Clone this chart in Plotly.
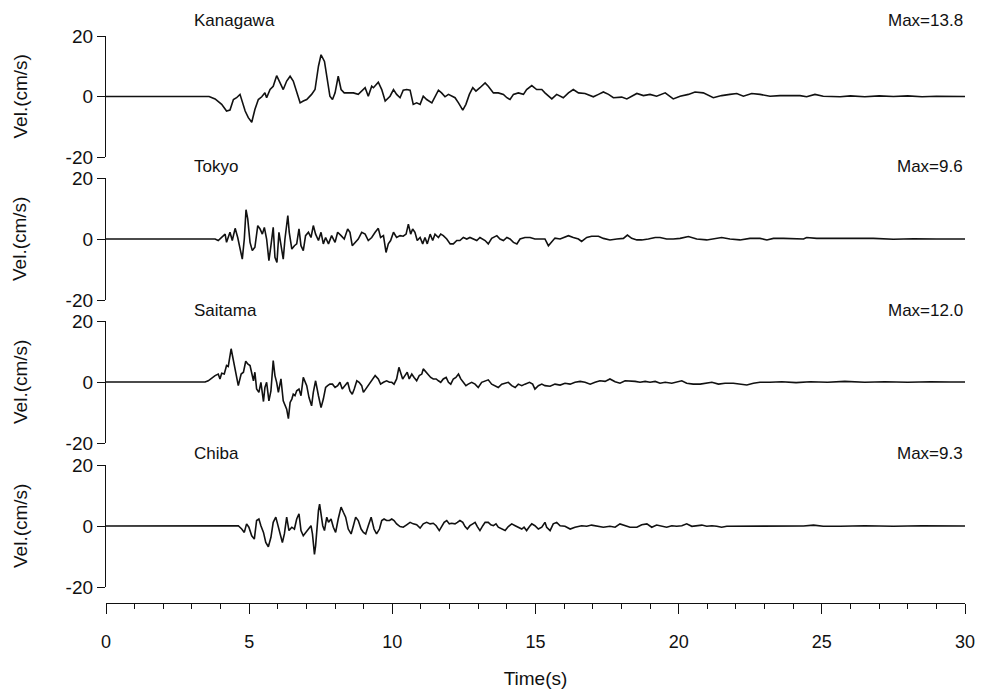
import plotly.graph_objects as go

# ---------------- velocity records (time in s, velocity in cm/s) ----------------
stations = ["Kanagawa", "Tokyo", "Saitama", "Chiba"]
max_labels = ["Max=13.8", "Max=9.6", "Max=12.0", "Max=9.3"]

kanagawa_t = [0, 3.1, 3.6, 3.81, 4.04, 4.21, 4.33, 4.45, 4.56, 4.68, 4.74, 4.86, 4.97, 5.09, 5.20, 5.32,
              5.44, 5.55, 5.61, 5.73, 5.84, 5.96, 6.08, 6.19, 6.31, 6.43, 6.54, 6.66, 6.78, 6.89, 7.01,
              7.18, 7.30, 7.42, 7.51, 7.63, 7.71, 7.82, 7.91, 8.00, 8.11, 8.21, 8.32, 8.46, 8.64, 8.81,
              8.93, 9.05, 9.16, 9.28, 9.34, 9.51, 9.63, 9.75, 9.92, 10.04, 10.15, 10.27, 10.38, 10.50,
              10.62, 10.73, 10.85, 10.97, 11.08, 11.20, 11.38, 11.49, 11.61, 11.72, 11.84, 11.96, 12.07,
              12.19, 12.31, 12.46, 12.57, 12.69, 12.81, 12.92, 13.06, 13.24, 13.35, 13.53, 13.70, 13.88,
              14.00, 14.11, 14.23, 14.40, 14.58, 14.69, 14.87, 15.04, 15.22, 15.33, 15.57, 15.74, 15.97,
              16.15, 16.32, 16.50, 16.73, 17.02, 17.20, 17.37, 17.55, 17.72, 18.01, 18.19, 18.54, 18.77,
              19.00, 19.23, 19.53, 19.81, 20.05, 20.34, 20.57, 20.86, 21.21, 21.50, 21.79, 22.03, 22.26,
              22.55, 22.84, 23.19, 23.54, 23.89, 24.24, 24.47, 24.76, 25.05, 25.40, 25.64, 26.0, 26.5,
              27.0, 27.5, 28.0, 28.5, 29.0, 29.5, 30.0]
kanagawa_v = [0, 0, 0, -0.8, -2.6, -4.8, -4.5, -1.0, -0.4, 0.7, -1.0, -4.8, -7.0, -8.5, -4.3, -1.0,
              -0.1, 1.2, -0.4, 2.3, 3.4, 6.9, 4.5, 2.3, 5.1, 6.7, 5.1, 1.8, -2.1, -1.5, -1.0,
              0.7, 2.3, 10.0, 13.8, 11.6, 6.7, 0.1, -1.0, 1.2, 6.7, 2.3, 1.2, 1.2, 1.2, 0.7,
              1.8, 2.9, 0.1, 3.4, 2.9, 4.7, 2.3, -1.5, 0.1, 2.3, 0.7, -0.4, 2.1, 2.3,
              2.1, -2.6, -2.1, -2.6, 0.1, -1.0, -2.1, 0.1, 2.1, 1.2, -0.1, 0.7, 0.1,
              -0.4, -2.1, -4.5, -2.6, 0.7, 2.9, 1.8, 2.9, 4.5, 3.4, 1.2, 1.2, 0.7,
              -0.4, -1.0, 0.7, 1.2, 0.7, 2.3, 3.6, 2.3, 2.3, 1.2, -0.8, 0.7, -0.4,
              1.2, 2.3, 1.2, 1.0, -0.1, 0.7, 1.5, 0.7, -0.4, -0.2, -0.8, 1.0, 0.3,
              0.7, 0.1, 1.2, -0.8, 0.1, 0.7, 1.5, 1.2, -0.4, 0.3, 0.7, 1.0, 0.1,
              1.0, 0.7, 0.1, 0.3, 0.4, 0.3, -0.1, 0.7, 0.1, 0.1, -0.1, 0.2, -0.1,
              0.2, 0.0, 0.2, -0.1, 0.1, 0.0, 0.0]

tokyo_t = [0, 3.81, 3.92, 4.04, 4.16, 4.21, 4.33, 4.41, 4.51, 4.60, 4.68, 4.76, 4.83, 4.89, 4.95, 5.03,
           5.11, 5.20, 5.30, 5.38, 5.46, 5.53, 5.61, 5.69, 5.76, 5.84, 5.90, 5.97, 6.04, 6.11, 6.19,
           6.25, 6.35, 6.40, 6.49, 6.58, 6.66, 6.74, 6.81, 6.89, 6.97, 7.07, 7.16, 7.24, 7.32, 7.42,
           7.51, 7.59, 7.67, 7.77, 7.88, 8.00, 8.09, 8.21, 8.32, 8.44, 8.52, 8.60, 8.70, 8.81, 8.93,
           9.05, 9.16, 9.28, 9.40, 9.51, 9.59, 9.69, 9.78, 9.86, 9.94, 10.04, 10.15, 10.27, 10.38,
           10.48, 10.56, 10.64, 10.71, 10.79, 10.87, 10.97, 11.06, 11.14, 11.22, 11.32, 11.41, 11.49,
           11.61, 11.69, 11.78, 11.90, 12.02, 12.13, 12.25, 12.36, 12.48, 12.60, 12.71, 12.83, 12.95,
           13.06, 13.24, 13.35, 13.47, 13.65, 13.76, 13.88, 14.00, 14.11, 14.23, 14.35, 14.46, 14.63,
           14.81, 14.98, 15.16, 15.33, 15.45, 15.57, 15.68, 15.86, 16.03, 16.15, 16.32, 16.50, 16.61,
           16.79, 16.96, 17.20, 17.37, 17.60, 17.84, 18.07, 18.21, 18.36, 18.54, 18.71, 18.94, 19.18,
           19.35, 19.58, 19.81, 20.05, 20.34, 20.63, 20.98, 21.33, 21.50, 21.79, 22.14, 22.49, 22.84,
           23.08, 23.31, 23.66, 24.01, 24.36, 24.47, 24.82, 25.17, 25.64, 26.2, 26.8, 27.5, 28.2,
           29.0, 30.0]
tokyo_v = [0, 0, -0.5, 0.5, 1.6, -1.1, 2.2, -0.5, 3.5, 0.5, -2.7, -6.6, 0.0, 9.6, 6.6, -1.1,
           -3.8, -2.7, 4.4, 3.3, 1.6, 3.8, 0.0, -7.1, -2.2, 3.8, -6.0, -7.7, 2.2, -2.7, -6.6,
           0.0, 7.7, 2.2, -3.3, -2.2, -1.6, 3.3, -2.2, -3.8, 1.1, 2.2, 0.5, 4.4, 1.6, -0.5,
           2.2, -1.6, 0.5, -1.6, 1.1, -1.1, 2.2, 1.1, 0.0, 3.3, 2.2, -2.2, -1.1, 0.0, 2.2,
           1.6, -0.5, 0.5, 2.2, 3.5, 0.5, 1.1, -4.4, -1.6, -0.5, 2.2, 0.5, 1.1, 0.9,
           1.6, 4.9, 1.6, 3.3, 2.2, -0.5, 0.5, -1.6, 0.5, -1.6, 1.6, -0.5, 1.6,
           0.5, 1.6, 1.1, 0.0, -1.6, -1.6, -0.5, -0.5, 0.5, 0.0, 0.5, 0.0, -0.5,
           0.5, -0.5, -1.6, 0.2, 1.1, 0.0, -0.5, 0.5, 0.0, -1.1, -1.6, 0.0, 0.5,
           0.5, 0.0, 0.0, 0.0, -2.2, -0.8, 0.3, 0.0, 0.5, 1.1, 0.5, 0.0, -0.8,
           0.5, 0.9, 0.9, 0.2, -0.3, 0.0, 0.2, 1.3, 0.2, -0.3, -0.3, 0.0, 0.5,
           0.5, 0.0, 0.0, 0.2, 0.8, 0.0, -0.3, 0.2, 0.5, 0.0, -0.3, 0.2, 0.2,
           -0.3, 0.2, 0.2, 0.2, 0.0, 0.5, 0.2, 0.2, 0.2, 0.0, 0.2, -0.1, 0.1,
           0.0, 0.0]

saitama_t = [0, 3.46, 3.57, 3.69, 3.81, 3.92, 3.98, 4.04, 4.13, 4.21, 4.27, 4.37, 4.45, 4.53, 4.62, 4.72,
             4.80, 4.88, 4.95, 5.03, 5.09, 5.15, 5.20, 5.26, 5.34, 5.41, 5.50, 5.55, 5.61, 5.69, 5.76,
             5.84, 5.90, 5.96, 6.02, 6.11, 6.19, 6.25, 6.31, 6.37, 6.43, 6.49, 6.54, 6.60, 6.66, 6.74,
             6.81, 6.89, 6.95, 7.01, 7.09, 7.18, 7.24, 7.32, 7.42, 7.51, 7.59, 7.67, 7.74, 7.82, 7.91,
             8.00, 8.09, 8.17, 8.25, 8.35, 8.44, 8.52, 8.60, 8.67, 8.76, 8.84, 8.93, 8.99, 9.07, 9.16,
             9.26, 9.34, 9.40, 9.51, 9.59, 9.69, 9.80, 9.90, 9.98, 10.06, 10.15, 10.23, 10.29, 10.36,
             10.44, 10.52, 10.59, 10.68, 10.76, 10.85, 10.94, 11.03, 11.08, 11.18, 11.26, 11.34, 11.43,
             11.53, 11.61, 11.69, 11.78, 11.88, 11.96, 12.04, 12.13, 12.22, 12.31, 12.39, 12.48, 12.57,
             12.65, 12.77, 12.89, 13.00, 13.12, 13.24, 13.35, 13.47, 13.59, 13.70, 13.82, 13.94, 14.05,
             14.17, 14.29, 14.40, 14.52, 14.63, 14.79, 14.90, 14.98, 15.10, 15.22, 15.33, 15.51, 15.68,
             15.86, 16.03, 16.21, 16.38, 16.56, 16.73, 16.91, 17.08, 17.25, 17.43, 17.60, 17.78, 17.95,
             18.13, 18.30, 18.48, 18.65, 18.83, 19.00, 19.18, 19.35, 19.53, 19.76, 19.94, 20.11, 20.28,
             20.51, 20.75, 20.98, 21.16, 21.39, 21.62, 21.91, 22.14, 22.38, 22.61, 22.84, 23.19, 23.6,
             24.1, 24.6, 25.2, 25.8, 26.5, 27.2, 28.0, 28.8, 29.5, 30.0]
saitama_v = [0, 0, 0.4, 1.3, 2.1, 2.6, 1.0, 2.9, 2.6, 5.4, 5.1, 10.9, 7.0, 4.3, -1.2, 2.6,
             3.2, 6.8, 5.9, 5.4, 2.6, 0.4, 3.2, -2.3, -3.4, -0.1, -6.4, -1.8, -0.1, -6.2, -2.9,
             7.0, 2.1, -0.1, -3.4, 1.0, -6.2, -7.8, -8.9, -12.0, -6.7, -5.6, -4.0, -4.5, -2.9, -2.3,
             -4.5, 1.5, 0.4, -1.2, -5.1, -7.8, -3.4, 0.4, -4.5, -8.4, -5.6, -1.8, -1.2, -0.7, -0.7,
             -1.8, -1.2, -0.1, -2.3, -1.2, -0.1, -2.9, -4.0, -2.3, 0.4, -0.1, -1.2, -3.4, -2.3, -1.2,
             -0.1, 1.0, 2.1, 1.0, -0.7, -0.1, 0.4, -0.1, -0.1, -0.7, 1.0, 4.8, 2.6, 1.0,
             2.1, 3.2, 1.0, 2.6, 1.5, 0.4, 2.1, 2.6, 4.3, 3.2, 2.1, 1.5, 1.0,
             1.0, 0.4, -0.1, 1.0, 1.5, -0.1, -0.7, 1.0, 1.5, 2.6, 1.0, -0.1, -1.2,
             -0.7, -0.1, -0.7, -1.8, -0.1, 0.4, 0.7, -0.7, -1.2, -1.8, -0.7, -0.4, -0.1,
             -1.2, -1.8, -0.7, -1.2, -0.7, -0.1, -0.7, -2.3, -1.2, -0.7, -1.2, -1.4, -0.7,
             -1.0, -0.4, -0.7, -0.1, 0.2, -0.1, -0.7, -0.1, 0.4, 0.2, 1.0, 0.1, -0.4,
             0.4, 0.4, 0.2, -0.1, 0.2, -0.1, 0.2, -0.4, -0.1, -0.4, 0.1, 0.4, -0.4,
             -0.7, -0.7, -0.4, -0.1, -0.7, -0.4, -0.4, -0.7, -1.0, -0.4, -0.1, -0.1, 0.1,
             -0.2, 0.1, -0.1, 0.2, -0.1, 0.1, -0.1, 0.1, 0.0, 0.0]

chiba_t = [0, 4.51, 4.62, 4.74, 4.83, 4.91, 4.99, 5.09, 5.18, 5.26, 5.34, 5.41, 5.50, 5.58, 5.67, 5.76,
           5.84, 5.93, 6.00, 6.08, 6.16, 6.23, 6.31, 6.39, 6.49, 6.58, 6.66, 6.74, 6.81, 6.89, 6.97,
           7.07, 7.16, 7.21, 7.28, 7.32, 7.37, 7.42, 7.46, 7.51, 7.57, 7.63, 7.71, 7.77, 7.86, 7.94,
           8.02, 8.11, 8.21, 8.29, 8.37, 8.46, 8.56, 8.64, 8.72, 8.81, 8.91, 8.99, 9.07, 9.16, 9.26,
           9.36, 9.45, 9.55, 9.63, 9.71, 9.80, 9.90, 9.98, 10.06, 10.15, 10.27, 10.38, 10.50, 10.62,
           10.73, 10.85, 10.97, 11.08, 11.20, 11.32, 11.43, 11.53, 11.64, 11.72, 11.81, 11.90, 11.99,
           12.07, 12.19, 12.27, 12.36, 12.46, 12.54, 12.62, 12.71, 12.81, 12.89, 12.97, 13.06, 13.16,
           13.24, 13.35, 13.44, 13.53, 13.62, 13.70, 13.82, 13.94, 14.05, 14.17, 14.29, 14.40, 14.52,
           14.60, 14.69, 14.79, 14.87, 14.98, 15.10, 15.22, 15.33, 15.39, 15.51, 15.62, 15.74, 15.86,
           16.03, 16.21, 16.38, 16.61, 16.79, 16.96, 17.20, 17.37, 17.60, 17.78, 17.95, 18.13, 18.30,
           18.54, 18.71, 18.89, 19.06, 19.23, 19.41, 19.58, 19.76, 19.93, 20.11, 20.28, 20.46, 20.63,
           20.81, 20.98, 21.16, 21.33, 21.50, 21.68, 22.14, 22.84, 23.54, 24.36, 24.71, 25.05, 25.64,
           26.5, 27.5, 28.5, 30.0]
chiba_v = [0, 0, 0.1, -1.0, -2.1, 0.7, -0.4, -3.2, -4.3, 1.8, 2.3, 0.1, -2.1, -5.4, -6.8, -3.7,
           1.2, 2.9, 0.1, -3.2, -5.4, -2.6, 2.9, -1.5, -0.4, -1.0, 2.3, 4.0, -1.5, -3.2, -2.1,
           -1.0, 0.1, -2.6, -9.3, -6.5, -0.4, 5.1, 7.2, 4.0, 0.1, -1.5, 2.9, 1.2, 2.3, -0.4,
           -2.1, 2.3, 6.2, 4.5, 2.9, -1.0, -2.6, 0.1, 2.9, 1.8, -1.0, -2.1, -2.6, 0.1, 2.9,
           -1.0, -2.6, -1.0, 1.8, 2.3, 1.8, 1.8, 2.3, 1.8, 0.7, -0.2, -0.4, 0.4, 1.2,
           0.7, 0.4, -0.7, 0.7, 1.2, 0.7, 0.9, 0.1, -1.5, -0.4, 1.2, 1.8, 0.7,
           0.9, 0.7, 1.2, 1.8, 1.2, -0.2, -1.0, 0.1, 0.7, 1.2, -0.2, -1.5, 0.1,
           1.2, 1.2, 0.4, 0.1, 0.7, -0.4, -1.0, -1.5, -0.2, 0.7, 0.1, -0.4, -1.0,
           -0.4, -1.5, -0.2, 0.7, 0.1, -1.0, -0.4, 1.2, -0.4, -1.5, 0.7, 1.2, 0.1,
           -0.1, -1.0, -0.4, 0.1, -0.1, 0.3, -0.1, -0.4, -0.1, -0.4, 0.7, 0.1, -0.4,
           -0.4, 0.4, 0.7, -0.4, 0.3, -0.1, -0.4, 0.1, -0.1, 0.1, 0.7, -0.1, 0.1,
           0.3, -0.1, 0.1, -0.1, -0.4, -0.1, -0.1, -0.1, 0.0, 0.0, 0.3, -0.1, -0.1,
           0.1, -0.1, 0.1, 0.0]

times = [kanagawa_t, tokyo_t, saitama_t, chiba_t]
values = [kanagawa_v, tokyo_v, saitama_v, chiba_v]

y_ticks = [-20, 0, 20]
y_tick_text = ["-20", "0", "20"]
x_major = [0, 5, 10, 15, 20, 25, 30]

# ---------------- layout geometry (paper fractions) ----------------
W, H = 982, 691
x0, x1 = 106 / W, 965 / W
panel_px = [(36, 157), (178, 300), (321, 443), (465, 587)]   # top, bottom in pixels
domains = [[1 - b / H, 1 - t / H] for t, b in panel_px]
label_rows = [20, 166, 310, 453]

FONT = "Liberation Sans, Arial, sans-serif"
INK = "#111111"

fig = go.Figure()
axis_names = ["y", "y2", "y3", "y4"]
for i in range(4):
    fig.add_trace(go.Scatter(
        x=times[i], y=values[i], mode="lines",
        line=dict(color=INK, width=1.6),
        xaxis="x", yaxis=axis_names[i], showlegend=False, hoverinfo="skip"))

layout = dict(
    width=W, height=H,
    margin=dict(l=0, r=0, t=0, b=0, autoexpand=False),
    paper_bgcolor="white", plot_bgcolor="white",
    font=dict(family=FONT, size=17, color=INK),
    showlegend=False,
    xaxis=dict(
        domain=[x0, x1], range=[0, 30], anchor="free", position=1 - 603 / H,
        automargin=False,
        showgrid=False, zeroline=False, showline=True, linecolor=INK, linewidth=1.3,
        tickvals=x_major, ticks="outside", ticklen=10, tickwidth=1.3, tickcolor=INK,
        ticklabelstandoff=12, tickfont=dict(size=18),
        minor=dict(dtick=1, tick0=0, ticks="outside", ticklen=5, tickwidth=1.3, tickcolor=INK),
        title=dict(text="Time(s)", standoff=20, font=dict(size=19)),
    ),
)
for i in range(4):
    key = "yaxis" if i == 0 else f"yaxis{i + 1}"
    layout[key] = dict(
        domain=domains[i], range=[-20, 20], anchor="x", automargin=False,
        showgrid=False, zeroline=False, showline=True, linecolor=INK, linewidth=1.3,
        tickvals=y_ticks, ticktext=y_tick_text,
        ticks="outside", ticklen=8, tickwidth=1.3, tickcolor=INK,
        tickfont=dict(size=19),
    )
fig.update_layout(**layout)

for i in range(4):
    fig.add_annotation(text=stations[i], x=192 / W, y=1 - label_rows[i] / H,
                       xref="paper", yref="paper", xanchor="left", yanchor="middle",
                       showarrow=False, font=dict(size=17))
    fig.add_annotation(text=max_labels[i], x=x1, y=1 - label_rows[i] / H,
                       xref="paper", yref="paper", xanchor="right", yanchor="middle",
                       showarrow=False, font=dict(size=17))
    fig.add_annotation(text="Vel.(cm/s)", x=20 / W, y=sum(domains[i]) / 2,
                       xref="paper", yref="paper", xanchor="center", yanchor="middle",
                       textangle=-90, showarrow=False, font=dict(size=19))

fig.write_html("out.html")
